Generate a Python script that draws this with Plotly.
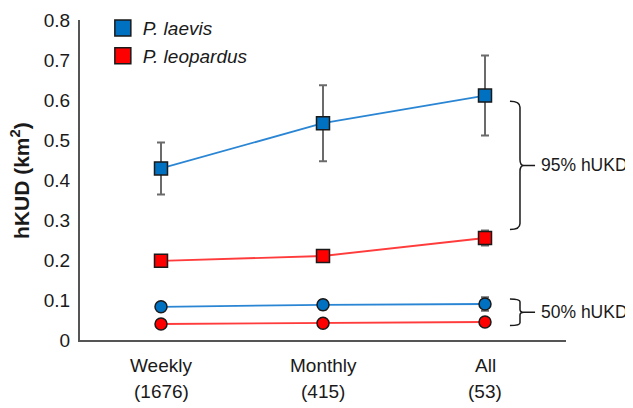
import plotly.graph_objects as go

categories = ["Weekly", "Monthly", "All"]
counts = ["(1676)", "(415)", "(53)"]
xpos = [0, 1, 2]

laevis95 = [0.429, 0.542, 0.611]
laevis95_err = [0.065, 0.095, 0.100]
leop95 = [0.198, 0.210, 0.255]
leop95_err = [0.005, 0.007, 0.019]
laevis50 = [0.083, 0.088, 0.090]
laevis50_err = [0.005, 0.012, 0.017]
leop50 = [0.040, 0.042, 0.045]
leop50_err = [0.003, 0.004, 0.005]

ytickvals = [0, 0.1, 0.2, 0.3, 0.4, 0.5, 0.6, 0.7, 0.8]
yticktext = ["0", "0.1", "0.2", "0.3", "0.4", "0.5", "0.6", "0.7", "0.8"]

BLUE = "#0070C0"
BLUE_LINE = "#2A86D4"
RED = "#FF0000"
RED_LINE = "#FF3B3B"
FONT = "Liberation Sans, Arial, sans-serif"
TXT = "#1a1a1a"

fig = go.Figure()

def add_series(y, err, color, linecolor, symbol, size):
    fig.add_trace(go.Scatter(
        x=xpos, y=y, mode="lines+markers", showlegend=False,
        line=dict(color=linecolor, width=1.8),
        marker=dict(symbol=symbol, size=size, color=color,
                    line=dict(color=TXT, width=1.5)),
        error_y=dict(type="data", array=err, visible=True,
                     color="#6b6b6b", thickness=2, width=4),
    ))

add_series(laevis50, laevis50_err, BLUE, BLUE_LINE, "circle", 12)
add_series(leop50, leop50_err, RED, RED_LINE, "circle", 12)
add_series(laevis95, laevis95_err, BLUE, BLUE_LINE, "square", 13)
add_series(leop95, leop95_err, RED, RED_LINE, "square", 13)

for name, color in [("P. laevis", BLUE), ("P. leopardus", RED)]:
    fig.add_trace(go.Scatter(
        x=[None], y=[None], mode="markers", name=f"<i>{name}</i>",
        marker=dict(symbol="square", size=16, color=color,
                    line=dict(color=TXT, width=1.5)),
    ))

# braces (in data coordinates)
def brace(top, bot, xl, xv, xm, xt, r):
    mid = (top + bot) / 2
    return (f"M {xl},{top} Q {xv},{top} {xv},{top - r} L {xv},{mid + r} "
            f"Q {xv},{mid} {xm},{mid} L {xt},{mid} M {xm},{mid} "
            f"Q {xv},{mid} {xv},{mid - r} L {xv},{bot + r} Q {xv},{bot} {xl},{bot}")

fig.add_shape(type="path", xref="x", yref="y",
              path=brace(0.597, 0.276, 2.154, 2.216, 2.240, 2.309, 0.015),
              line=dict(color=TXT, width=1.5))
fig.add_shape(type="path", xref="x", yref="y",
              path=brace(0.1025, 0.036, 2.154, 2.216, 2.240, 2.309, 0.007),
              line=dict(color=TXT, width=1.5))

fig.add_annotation(x=2.336, y=0.4365, xref="x", yref="y", text="95% hUKD",
                   showarrow=False, xanchor="left", yanchor="middle",
                   font=dict(family=FONT, size=17.5, color=TXT))
fig.add_annotation(x=2.336, y=0.069, xref="x", yref="y", text="50% hUKD",
                   showarrow=False, xanchor="left", yanchor="middle",
                   font=dict(family=FONT, size=17.5, color=TXT))

for xp, cat, cnt in zip(xpos, categories, counts):
    fig.add_annotation(x=xp, y=0, xref="x", yref="paper", text=cat,
                       showarrow=False, yanchor="middle", yshift=-25,
                       font=dict(family=FONT, size=19, color=TXT))
    fig.add_annotation(x=xp, y=0, xref="x", yref="paper", text=cnt,
                       showarrow=False, yanchor="middle", yshift=-51,
                       font=dict(family=FONT, size=19, color=TXT))

fig.add_annotation(x=-0.1235, y=0.5, xref="paper", yref="paper",
                   text="<b>hKUD (km<sup>2</sup>)</b>", textangle=-90,
                   showarrow=False, xanchor="center", yanchor="middle",
                   font=dict(family=FONT, size=21, color=TXT))

# the page body adds an 8px offset, so the figure is 8px smaller
fig.update_layout(
    width=625, height=400,
    margin=dict(l=72, r=67, t=12, b=68, autoexpand=False),
    plot_bgcolor="white", paper_bgcolor="white",
    font=dict(family=FONT, size=19, color=TXT),
    showlegend=True,
    legend=dict(x=0.047, y=1.034, xanchor="left", yanchor="top",
                bgcolor="rgba(0,0,0,0)", tracegroupgap=0,
                font=dict(family=FONT, size=19, color=TXT)),
    xaxis=dict(range=[-0.5, 2.5], showgrid=False, zeroline=False,
               showline=True, linecolor="#555555", linewidth=2,
               showticklabels=False, ticks=""),
    yaxis=dict(range=[0, 0.8], showgrid=False, zeroline=False,
               showline=True, linecolor="#555555", linewidth=2,
               tickvals=ytickvals, ticktext=yticktext, ticks="",
               ticklabelstandoff=4,
               tickfont=dict(family=FONT, size=19, color=TXT)),
)

fig.write_html("out.html")
